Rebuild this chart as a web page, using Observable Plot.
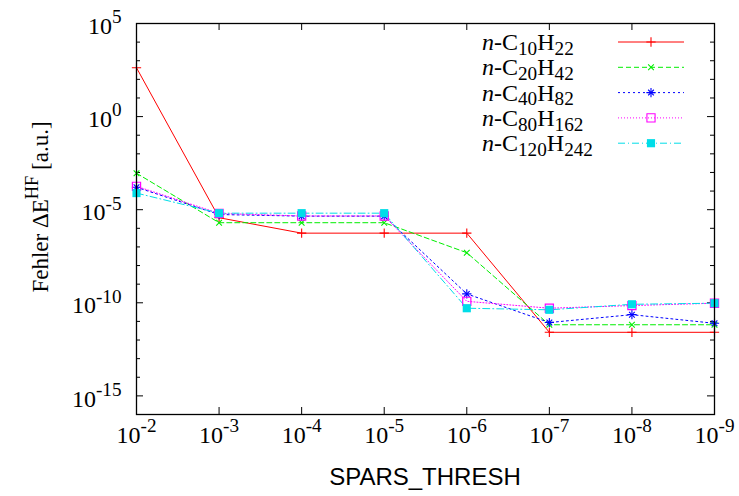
<!DOCTYPE html>
<html><head><meta charset="utf-8">
<script src="https://cdn.jsdelivr.net/npm/d3@7"></script>
<script src="https://cdn.jsdelivr.net/npm/@observablehq/plot@0.6"></script>
<style>body{margin:0;background:#fff} #chart svg{display:block}</style>
</head><body><div id="chart"></div>
<script>
// ---- data ----
const thresholds = [1e-2, 1e-3, 1e-4, 1e-5, 1e-6, 1e-7, 1e-8, 1e-9];
const c10h22  = [4.2e2, 3.7e-6, 5.5e-7, 5.5e-7, 5.5e-7, 2.6e-12, 2.6e-12, 2.6e-12];
const c20h42  = [9.1e-4, 2.0e-6, 2.0e-6, 2.0e-6, 4.9e-8, 6.6e-12, 6.6e-12, 6.6e-12];
const c40h82  = [1.6e-4, 5.5e-6, 4.5e-6, 4.5e-6, 3.0e-10, 8.7e-12, 2.3e-11, 7.9e-12];
const c80h162 = [1.8e-4, 6.3e-6, 4.6e-6, 4.6e-6, 1.2e-10, 5.1e-11, 7.1e-11, 9.5e-11];
const c120h242 = [7.8e-5, 6.5e-6, 6.5e-6, 6.5e-6, 5.1e-11, 4.2e-11, 8.3e-11, 9.5e-11];
const seriesLabels = ["*n*-C_{10}H_{22}", "*n*-C_{20}H_{42}", "*n*-C_{40}H_{82}", "*n*-C_{80}H_{162}", "*n*-C_{120}H_{242}"];
const xTickLabels = ["10^{-2}", "10^{-3}", "10^{-4}", "10^{-5}", "10^{-6}", "10^{-7}", "10^{-8}", "10^{-9}"];
const yMajorTicks = [1e5, 1e0, 1e-5, 1e-10, 1e-15];
const yTickLabels = ["10^{5}", "10^{0}", "10^{-5}", "10^{-10}", "10^{-15}"];
const yMinorTicks = [1e4, 1e3, 1e2, 1e1, 1e-1, 1e-2, 1e-3, 1e-4, 1e-6, 1e-7, 1e-8, 1e-9, 1e-11, 1e-12, 1e-13, 1e-14, 1e-16];
const xTitle = "SPARS_THRESH";
const yTitle = "Fehler \u0394E^{HF} [a.u.]";

// ---- layout / style ----
const W = 739, H = 496, ML = 136, MR = 25, MT = 23, MB = 82;
const PW = W - ML - MR, PH = H - MT - MB;
const serif = "Liberation Serif, Times New Roman, serif";
const FS = 24;
const styles = [
  {color: "#ff0000", dash: null,        syms: ["plus"]},
  {color: "#00ee00", dash: "5,3",       syms: ["times"]},
  {color: "#0000ff", dash: "2,3",       syms: ["plus", "times"]},
  {color: "#ff00ff", dash: "1,2",       syms: ["square"], fill: "none"},
  {color: "#00dde8", dash: "7,3,1,3",   syms: ["square"], fill: "#00dde8"}
];
const seriesValues = [c10h22, c20h42, c40h82, c80h162, c120h242];
const series = seriesValues.map((vals, i) => ({
  label: seriesLabels[i], ...styles[i],
  rows: thresholds.map((t, j) => ({t, v: vals[j]}))
}));
const RSQ = 4.6, RPL = 3.1, RTI = 2.7;

const marks = [];
// ticks (inward, mirrored on all four sides)
marks.push(Plot.tickY(yMajorTicks, {y: d => d, insetRight: PW - 7, stroke: "black"}));
marks.push(Plot.tickY(yMajorTicks, {y: d => d, insetLeft: PW - 7, stroke: "black"}));
marks.push(Plot.tickY(yMinorTicks, {y: d => d, insetRight: PW - 4, stroke: "black"}));
marks.push(Plot.tickY(yMinorTicks, {y: d => d, insetLeft: PW - 4, stroke: "black"}));
marks.push(Plot.tickX(thresholds, {x: d => d, insetTop: PH - 7, stroke: "black"}));
marks.push(Plot.tickX(thresholds, {x: d => d, insetBottom: PH - 7, stroke: "black"}));
for (const s of series) {
  marks.push(Plot.line(s.rows, {x: "t", y: "v", stroke: s.color, strokeWidth: 1, strokeDasharray: s.dash}));
}
for (const s of series) {
  for (const sym of s.syms) {
    if (sym === "square") {
      marks.push(Plot.dot(s.rows, {x: "t", y: "v", symbol: "square", r: RSQ,
        fill: s.fill === "none" ? "none" : s.fill, stroke: s.fill === "none" ? s.color : "none", strokeWidth: 1.2}));
    } else {
      marks.push(Plot.dot(s.rows, {x: "t", y: "v", symbol: sym, r: sym === "times" ? RTI : RPL, stroke: s.color, strokeWidth: 1.1}));
    }
  }
}
marks.push(Plot.frame({stroke: "black", strokeWidth: 1.3}));
marks.push(Plot.axisY(yMajorTicks, {tickSize: 0, tickPadding: 15, dy: 3, fontSize: FS, fontFamily: serif,
  fill: "black", tickFormat: d => yTickLabels[yMajorTicks.indexOf(d)], label: null}));
marks.push(Plot.axisX(thresholds, {tickSize: 0, tickPadding: 11, fontSize: FS, fontFamily: serif,
  fill: "black", tickFormat: d => xTickLabels[thresholds.indexOf(d)], label: null}));

const chart = Plot.plot({
  width: W, height: H, marginLeft: ML, marginRight: MR, marginTop: MT, marginBottom: MB,
  x: {type: "log", domain: [1e-2, 1e-9]},
  y: {type: "log", domain: [1e-16, 1e5]},
  style: {background: "white", fontFamily: serif, color: "black"},
  marks
});
document.getElementById("chart").append(chart);

// ---- rich text (gnuplot-like ^{} _{} and *italic*) ----
function rich(textSel, str, size, dropK = 0.25) {
  textSel.text(null).attr("font-size", size);
  const re = /([\^_])\{([^}]*)\}|\*([^*]+)\*|([^\^_*]+)/g;
  let m, offset = 0;
  const rise = 0.45 * size, drop = dropK * size;
  while ((m = re.exec(str))) {
    const t = textSel.append("tspan");
    if (m[1]) {
      const d = m[1] === "^" ? -rise : drop;
      t.text(m[2]).attr("font-size", 0.8 * size).attr("dy", d - offset);
      offset = d;
    } else {
      t.text(m[3] || m[4]).attr("font-size", size);
      if (m[3]) t.attr("font-style", "italic");
      if (offset) { t.attr("dy", -offset); offset = 0; }
    }
  }
}
const svg = d3.select(chart);
svg.selectAll("text").each(function() {
  const s = this.textContent;
  if (s.includes("^{")) rich(d3.select(this), s, FS);
});

// y title
const yt = svg.append("text").attr("transform", "translate(48,207) rotate(-90)")
  .attr("text-anchor", "middle").attr("font-family", serif).attr("fill", "black");
rich(yt, yTitle, 23);
// x title
svg.append("text").attr("x", ML + PW / 2).attr("y", 485).attr("text-anchor", "middle")
  .attr("font-family", "Liberation Sans, Arial, sans-serif").attr("font-size", 24).attr("fill", "black").text(xTitle);

// legend
const lg = svg.append("g").attr("class", "legend");
series.forEach((s, i) => {
  const y = 42 + i * 25.3;
  const t = lg.append("text").attr("x", 482).attr("y", y + 8).attr("text-anchor", "start")
    .attr("font-family", serif).attr("fill", "black");
  rich(t, s.label, 24, 0.2);
  lg.append("line").attr("x1", 618).attr("x2", 684).attr("y1", y).attr("y2", y)
    .attr("stroke", s.color).attr("stroke-width", 1).attr("stroke-dasharray", s.dash);
  for (const sym of s.syms) {
    const typ = sym === "plus" ? d3.symbolPlus : sym === "times" ? d3.symbolTimes : d3.symbolSquare;
    const rr = sym === "times" ? RTI : sym === "plus" ? RPL : RSQ;
    lg.append("path").attr("transform", `translate(651,${y})`)
      .attr("d", d3.symbol(typ, rr * rr * Math.PI)())
      .attr("fill", sym === "square" ? (s.fill === "none" ? "none" : s.fill) : "none")
      .attr("stroke", sym === "square" ? (s.fill === "none" ? s.color : "none") : s.color)
      .attr("stroke-width", 1.1);
  }
});
</script></body></html>
